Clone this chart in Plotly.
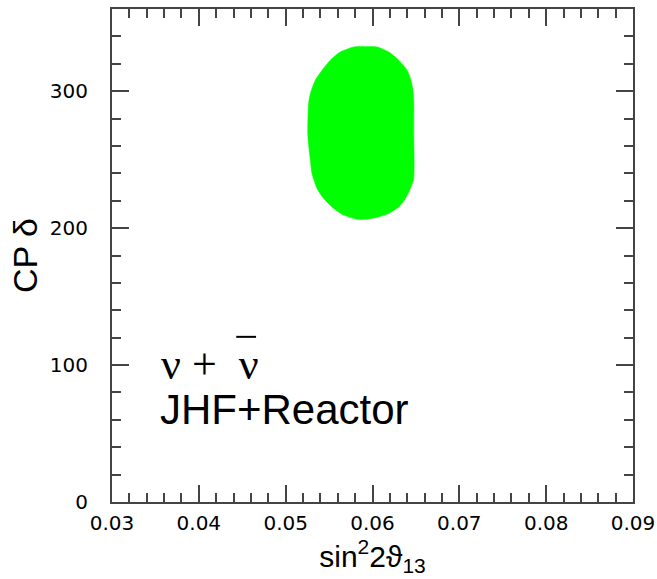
import plotly.graph_objects as go

# Allowed region outline (sin^2 2theta13, CP delta in degrees)
region_x = [0.05783, 0.05918, 0.06053, 0.06187, 0.06302, 0.06399, 0.06437, 0.06464, 0.06475, 0.06476,
            0.06475, 0.06437, 0.06380, 0.06302, 0.06187, 0.06072, 0.05918, 0.05822, 0.05668, 0.05553,
            0.05437, 0.05361, 0.05303, 0.05284, 0.05255, 0.05264, 0.05284, 0.05341, 0.05419, 0.05514,
            0.05630]
region_y = [332.3, 332.5, 332.3, 328.7, 322.6, 315.3, 309.3, 302.0, 293.4, 267.9,
            236.3, 229.0, 221.7, 215.5, 210.7, 208.2, 206.4, 206.4, 209.5, 214.4,
            221.7, 229.0, 239.9, 249.6, 267.9, 291.0, 298.3, 308.0, 315.3, 322.6,
            328.7]

x_ticks = [0.03, 0.04, 0.05, 0.06, 0.07, 0.08, 0.09]
y_ticks = [0, 100, 200, 300]

fig = go.Figure()
fig.add_trace(go.Scatter(
    x=region_x + [region_x[0]], y=region_y + [region_y[0]],
    mode="lines", fill="toself", fillcolor="#00ff00",
    line=dict(color="#00ff00", width=0.5, shape="spline", smoothing=0.6),
    hoverinfo="skip", showlegend=False,
))

axis_common = dict(
    showline=True, linecolor="#444444", linewidth=2, mirror="allticks",
    ticks="inside", tickcolor="#444444", tickwidth=1.5, ticklen=17,
    showgrid=False, zeroline=False, automargin=False,
    tickfont=dict(family="DejaVu Sans", size=20, color="black"),
)

fig.update_xaxes(
    range=[0.03, 0.09], tickvals=x_ticks, ticktext=[f"{v:.2f}" for v in x_ticks],
    minor=dict(ticks="inside", ticklen=9, tickcolor="#444444", tickwidth=1.5, dtick=0.002, showgrid=False),
    title=dict(text="sin<sup>2</sup>2ϑ<sub>13</sub>", font=dict(family="Liberation Sans", size=30, color="black"), standoff=2),
    ticklabelstandoff=2,
    **axis_common,
)
fig.update_yaxes(
    range=[0, 360], tickvals=y_ticks, ticktext=[str(v) for v in y_ticks],
    minor=dict(ticks="inside", ticklen=9, tickcolor="#444444", tickwidth=1.5, dtick=20, showgrid=False),
    title=dict(text="CP δ", font=dict(family="Liberation Sans", size=34, color="black"), standoff=2),
    ticklabelstandoff=18,
    **axis_common,
)

fig.add_annotation(text="ν +  ν", xref="paper", yref="paper", x=0.09, y=0.278,
                   xanchor="left", yanchor="middle", showarrow=False,
                   font=dict(family="Liberation Serif", size=44, color="black"))
fig.add_annotation(text="JHF+Reactor", xref="paper", yref="paper", x=0.088, y=0.187,
                   xanchor="left", yanchor="middle", showarrow=False,
                   font=dict(family="Liberation Sans", size=42, color="black"))
fig.add_shape(type="line", xref="paper", yref="paper", x0=0.2385, x1=0.2765, y0=0.335, y1=0.335,
              line=dict(color="black", width=2))

fig.update_layout(
    width=657, height=579,
    margin=dict(l=112, r=24, t=9, b=77),
    plot_bgcolor="white", paper_bgcolor="white",
)

fig.write_html(
    "out.html",
    config={"displayModeBar": False},
    post_script="document.body.style.margin='0';document.body.style.overflow='hidden';",
)
